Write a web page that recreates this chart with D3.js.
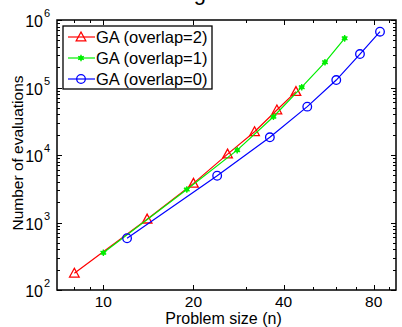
<!DOCTYPE html>
<html>
<head>
<meta charset="utf-8">
<script src="https://cdn.jsdelivr.net/npm/d3@7"></script>
<style>
  html, body { margin: 0; padding: 0; background: #fff; }
  svg { display: block; font-family: "Liberation Sans", Arial, sans-serif; }
</style>
</head>
<body>
<div id="chart"></div>
<script>
// problem sizes and evaluation counts per overlap setting
const sizes2 = [8, 14, 20, 26, 32, 38, 44];
const evals2 = [177, 1120, 3800, 10300, 22100, 46400, 87000];
const sizes1 = [10, 19, 28, 37, 46, 55, 64];
const evals1 = [357, 3090, 11800, 36900, 101000, 236000, 535000];
const sizes0 = [12, 24, 36, 48, 60, 72, 84];
const evals0 = [584, 4930, 18300, 52000, 129000, 313000, 671000];

const seriesNames = ['GA (overlap=2)', 'GA (overlap=1)', 'GA (overlap=0)'];
const seriesColors = ['#ff0000', '#00ee00', '#0000ff'];
const seriesMarkers = ['triangle', 'star', 'circle'];

const xTicks = [10, 20, 40, 80];
const xMinorTicks = [8, 9, 30, 50, 60, 70, 90];
const yTicks = [100, 1000, 10000, 100000, 1000000];

const width = 402, height = 327;
const margin = { top: 20, right: 6, bottom: 37, left: 57 };
const plotW = width - margin.left - margin.right;
const plotH = height - margin.top - margin.bottom;

const svg = d3.select('#chart').append('svg')
  .attr('width', width)
  .attr('height', height);

// title sits above the picture, only the descender shows
svg.append('text')
  .attr('x', 206).attr('y', 0)
  .attr('text-anchor', 'end')
  .attr('font-size', 22)
  .text('Scaling');

const g = svg.append('g')
  .attr('transform', `translate(${margin.left},${margin.top})`);

const x = d3.scaleLog().base(2).domain([7, 95]).range([0, plotW]);
const y = d3.scaleLog().domain([100, 1e6]).range([plotH, 0]);

// minor y ticks
const yMinor = [];
for (let p = 100; p < 1e6; p *= 10) {
  for (let k = 2; k <= 9; k++) yMinor.push(p * k);
}

const tickG = g.append('g').attr('stroke', '#000').attr('stroke-width', 1);
xTicks.forEach(v => {
  const px = Math.round(x(v)) + 0.5;
  tickG.append('line').attr('x1', px).attr('x2', px).attr('y1', plotH).attr('y2', plotH - 5);
  tickG.append('line').attr('x1', px).attr('x2', px).attr('y1', 0).attr('y2', 5);
});
xMinorTicks.forEach(v => {
  const px = Math.round(x(v)) + 0.5;
  tickG.append('line').attr('x1', px).attr('x2', px).attr('y1', plotH).attr('y2', plotH - 3);
  tickG.append('line').attr('x1', px).attr('x2', px).attr('y1', 0).attr('y2', 3);
});
yTicks.forEach(v => {
  const py = Math.round(y(v)) + 0.5;
  tickG.append('line').attr('x1', 0).attr('x2', 5).attr('y1', py).attr('y2', py);
  tickG.append('line').attr('x1', plotW).attr('x2', plotW - 5).attr('y1', py).attr('y2', py);
});
yMinor.forEach(v => {
  const py = Math.round(y(v)) + 0.5;
  tickG.append('line').attr('x1', 0).attr('x2', 3).attr('y1', py).attr('y2', py);
  tickG.append('line').attr('x1', plotW).attr('x2', plotW - 3).attr('y1', py).attr('y2', py);
});

// frame
g.append('rect')
  .attr('x', 0).attr('y', 0)
  .attr('width', plotW).attr('height', plotH)
  .attr('fill', 'none')
  .attr('stroke', '#000')
  .attr('stroke-width', 1.5);

// tick labels
xTicks.forEach(v => {
  g.append('text')
    .attr('x', x(v)).attr('y', plotH + 17)
    .attr('text-anchor', 'middle')
    .attr('font-size', 15.5)
    .text(v);
});
yTicks.forEach(v => {
  g.append('text')
    .attr('x', -14).attr('y', y(v) + 7)
    .attr('text-anchor', 'end')
    .attr('font-size', 16)
    .text('10');
  g.append('text')
    .attr('x', -13).attr('y', y(v) - 3)
    .attr('font-size', 11)
    .text(Math.round(Math.log10(v)));
});

// axis titles
svg.append('text')
  .attr('x', margin.left + plotW / 2 - 3).attr('y', height - 3)
  .attr('text-anchor', 'middle')
  .attr('font-size', 16)
  .text('Problem size (n)');
svg.append('text')
  .attr('transform', `translate(23,${margin.top + plotH / 2 - 2}) rotate(-90)`)
  .attr('text-anchor', 'middle')
  .attr('font-size', 15.5)
  .text('Number of evaluations');

function drawMarker(sel, type, color) {
  if (type === 'triangle') {
    sel.append('path')
      .attr('d', 'M0,-5L4.8,3.8L-4.8,3.8Z')
      .attr('fill', 'none').attr('stroke', color).attr('stroke-width', 1.3);
  } else if (type === 'circle') {
    sel.append('circle').attr('r', 4.3)
      .attr('fill', 'none').attr('stroke', color).attr('stroke-width', 1.3);
  } else {
    sel.append('path')
      .attr('d', d3.symbol(d3.symbolAsterisk || d3.symbolCross, 30)())
      .attr('fill', color).attr('stroke', color).attr('stroke-width', 1.4);
    sel.append('circle').attr('r', 2.3).attr('fill', color);
  }
}

const allSizes = [sizes2, sizes1, sizes0];
const allEvals = [evals2, evals1, evals0];
const line = d3.line().x(d => x(d[0])).y(d => y(d[1]));

allSizes.forEach((sz, i) => {
  const pts = sz.map((n, j) => [n, allEvals[i][j]]);
  g.append('path')
    .datum(pts)
    .attr('d', line)
    .attr('fill', 'none')
    .attr('stroke', seriesColors[i])
    .attr('stroke-width', 1.2);
  g.selectAll(null)
    .data(pts)
    .enter()
    .append('g')
    .attr('transform', d => `translate(${x(d[0])},${y(d[1])})`)
    .each(function() { drawMarker(d3.select(this), seriesMarkers[i], seriesColors[i]); });
});

// legend
const legend = svg.append('g').attr('transform', 'translate(63,26)');
legend.append('rect')
  .attr('x', 0).attr('y', 0)
  .attr('width', 149).attr('height', 63)
  .attr('fill', '#fff')
  .attr('stroke', '#000')
  .attr('stroke-width', 1.3);
seriesNames.forEach((name, i) => {
  const cy = 11 + i * 21;
  legend.append('line')
    .attr('x1', 5).attr('x2', 32).attr('y1', cy).attr('y2', cy)
    .attr('stroke', seriesColors[i]).attr('stroke-width', 1.2);
  const m = legend.append('g').attr('transform', `translate(18,${cy})`);
  drawMarker(m, seriesMarkers[i], seriesColors[i]);
  legend.append('text')
    .attr('x', 33).attr('y', cy + 6)
    .attr('font-size', 16.5)
    .text(name);
});
</script>
</body>
</html>
